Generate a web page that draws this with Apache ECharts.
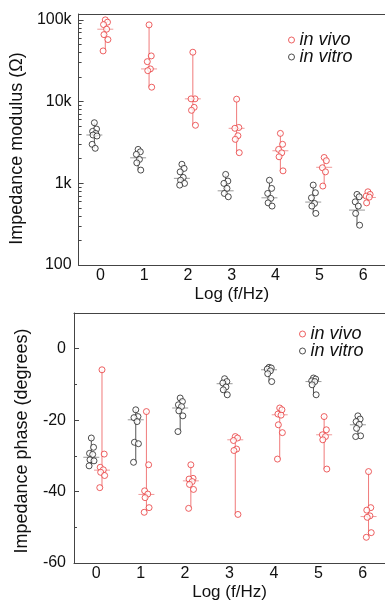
<!DOCTYPE html>
<html><head><meta charset="utf-8">
<script src="https://cdn.jsdelivr.net/npm/echarts@6/dist/echarts.min.js"></script>
<style>html,body{margin:0;padding:0;background:#fff}#c{width:385px;height:605px}</style>
</head><body><div id="c"></div>
<script>
// ---------- data ----------
const categories = ['0', '1', '2', '3', '4', '5', '6'];

const modulusInVivo = [
  [100000, 93800, 87600, 76900, 66000, 57400, 41700],
  [86900, 36200, 30800, 25100, 23900, 15000],
  [40200, 10800, 10800, 8500, 7820, 5130],
  [10700, 4820, 4710, 3820, 3450, 2370],
  [4080, 3000, 2600, 2360, 2110, 1420],
  [2070, 1890, 1550, 1380, 925],
  [787, 731, 697, 677, 576]
];
const modulusInVivoMedian = [76900, 25100, 10800, 4710, 2500, 1570, 671];

const modulusInVitro = [
  [5510, 4610, 4320, 4080, 3900, 3790, 3000, 2680],
  [2600, 2430, 2260, 1960, 1780, 1450],
  [1710, 1520, 1380, 1180, 1090, 997, 950],
  [1285, 1065, 997, 866, 751, 684],
  [1090, 866, 751, 653, 576, 526],
  [951, 766, 664, 567, 526, 428],
  [731, 684, 593, 526, 428, 307]
];
const modulusInVitroMedian = [3900, 2050, 1150, 809, 664, 589, 470];

const phaseInVivo = [
  [-5.9, -29.5, -33.2, -33.9, -34.6, -35.5, -38.9],
  [-17.6, -32.5, -39.8, -40.7, -41.7, -44.5, -45.8],
  [-32.5, -36.3, -36.5, -37.2, -38, -39.4, -44.7],
  [-24.6, -25, -25.7, -28.1, -28.5, -46.4],
  [-16.6, -17.1, -18.3, -18.6, -21.3, -23.5, -30.9],
  [-19, -22.7, -24.1, -24.6, -25.5, -33.7],
  [-34.4, -44.5, -45.2, -46.8, -47.2, -51.5, -52.8]
];
const phaseInVivoMedian = [-34, -40.8, -37, -25.5, -18.5, -24.1, -47];

const phaseInVitro = [
  [-25, -27.6, -29.3, -29.6, -31.1, -31.4, -32.8],
  [-17.1, -19, -19.3, -20.4, -26.2, -26.6, -31.8],
  [-13.8, -14.8, -15.7, -16.2, -17.4, -18.8, -23.2],
  [-8.4, -9.2, -9.6, -10.7, -11.5, -12.9],
  [-5.2, -5.4, -5.7, -6.2, -7, -9.2],
  [-8.2, -8.5, -9, -9.2, -10.1, -12.9],
  [-18.8, -19.7, -20.4, -21.2, -22.3, -24.4, -24.6]
];
const phaseInVitroMedian = [-30.4, -19.9, -16.6, -9.8, -5.9, -9.2, -21.3];

const modulusTicks = [100, 1000, 10000, 100000];
const phaseTicks = [-60, -40, -20, 0];
const phaseMinorTicks = [-50, -30, -10];

// ---------- styling ----------
const RED = '#e8393b', RED_LINE = '#f07a7a', RED_MED = '#f09a9a';
const BLK = '#222', BLK_LINE = '#555', BLK_MED = '#999';
const AX = '#444';
const FONT = '"Liberation Sans", Arial, sans-serif';
const jitter = [0, 0.05, -0.04, 0.03, -0.03, 0.06, -0.05, 0.02];

const modMinor = [];
[100, 1000, 10000].forEach(d => { for (let k = 2; k <= 9; k++) modMinor.push(d * k); });

function points(groups, off) {
  const out = [];
  groups.forEach((g, i) => g.forEach((v, k) => out.push([i + off + jitter[k % jitter.length], v])));
  return out;
}
function ranges(groups, medians, off) {
  return groups.map((g, i) => [i + off, Math.min(...g), Math.max(...g), medians[i]]);
}
function rangeRender(color, medColor) {
  return function (params, api) {
    const x = api.value(0);
    const lo = api.coord([x, api.value(1)]);
    const hi = api.coord([x, api.value(2)]);
    const md = api.coord([x, api.value(3)]);
    return { type: 'group', children: [
      { type: 'line', shape: { x1: lo[0], y1: lo[1], x2: hi[0], y2: hi[1] }, style: { stroke: color, lineWidth: 1 } },
      { type: 'line', shape: { x1: md[0] - 8, y1: md[1], x2: md[0] + 8, y2: md[1] }, style: { stroke: medColor, lineWidth: 1 } }
    ]};
  };
}

function catAxis(grid, pos, labels) {
  return {
    type: 'category', gridIndex: grid, position: pos, data: categories, boundaryGap: true,
    axisLine: { onZero: false, lineStyle: { color: AX, width: 1 } },
    axisTick: { alignWithLabel: true, inside: true, length: 4, lineStyle: { color: AX } },
    axisLabel: { show: labels, color: '#111', fontSize: 16, fontFamily: FONT, margin: 3 },
    splitLine: { show: false },
    name: labels ? 'Log (f/Hz)' : '', nameLocation: 'middle', nameGap: 21,
    nameTextStyle: { color: '#111', fontSize: 17, fontFamily: FONT }
  };
}
function valX(grid) {
  return { type: 'value', gridIndex: grid, min: -0.5, max: 6.5, show: false };
}
function scatterStyle(c) {
  return { color: '#fff', borderColor: c, borderWidth: 1 };
}

const TOP_OFF = { vitro: -0.14, vivo: 0.11 };
const BOT_OFF = { vitro: -0.11, vivo: 0.13 };

const legendText = { fontSize: 18, fontStyle: 'italic', color: '#111', fontFamily: FONT, lineHeight: 16 };
function legend(left, top) {
  return { data: ['in vivo', 'in vitro'], orient: 'vertical', left: left, top: top, padding: 0,
    itemWidth: 6, itemHeight: 6, itemGap: -1, itemStyle: { borderWidth: 1 }, textStyle: legendText };
}

const option = {
  animation: false,
  backgroundColor: '#fff',
  textStyle: { fontFamily: FONT },
  grid: [
    { left: 77, right: -4, top: 14, bottom: 340 },
    { left: 74, right: 0, top: 313, bottom: 42 }
  ],
  legend: [legend(288, 31), legend(299, 325)],
  xAxis: [
    catAxis(0, 'bottom', true), catAxis(0, 'top', false), valX(0),
    catAxis(1, 'bottom', true), catAxis(1, 'top', false), valX(1)
  ],
  yAxis: [
    { type: 'log', logBase: 10, gridIndex: 0, min: 100, max: 118000, position: 'left',
      axisLine: { show: true, onZero: false, lineStyle: { color: AX } },
      axisTick: { inside: true, length: 5, customValues: modulusTicks, lineStyle: { color: AX } },
      axisLabel: { customValues: modulusTicks, color: '#111', fontSize: 16, fontFamily: FONT, margin: 7,
        formatter: v => v >= 1000 ? (v / 1000) + 'k' : String(v) },
      splitLine: { show: false },
      name: 'Impedance modulus (Ω)', nameLocation: 'middle', nameGap: 46,
      nameTextStyle: { color: '#111', fontSize: 18, fontFamily: FONT, padding: [0, 18, 0, 0] } },
    { type: 'log', logBase: 10, gridIndex: 0, min: 100, max: 118000, position: 'left', offset: 0,
      axisLine: { show: false, onZero: false }, axisLabel: { show: false }, splitLine: { show: false },
      axisTick: { show: true, inside: true, length: 3, customValues: modMinor, lineStyle: { color: AX } } },
    { type: 'value', gridIndex: 1, min: -60, max: 10, interval: 20, position: 'left',
      axisLine: { show: true, onZero: false, lineStyle: { color: AX } },
      axisTick: { inside: true, length: 5, customValues: phaseTicks, lineStyle: { color: AX } },
      axisLabel: { customValues: phaseTicks, color: '#111', fontSize: 16, fontFamily: FONT, margin: 8 },
      splitLine: { show: false },
      name: 'Impedance phase (degrees)', nameLocation: 'middle', nameGap: 43,
      nameTextStyle: { color: '#111', fontSize: 18, fontFamily: FONT, padding: [0, 6, 0, 0] } },
    { type: 'value', gridIndex: 1, min: -60, max: 10, interval: 20, position: 'left', offset: 0,
      axisLine: { show: false, onZero: false }, axisLabel: { show: false }, splitLine: { show: false },
      axisTick: { show: true, inside: true, length: 3, customValues: phaseMinorTicks, lineStyle: { color: AX } } }
  ],
  series: [
    { type: 'custom', name: 'vitro-range-top', xAxisIndex: 2, yAxisIndex: 0, renderItem: rangeRender(BLK_LINE, BLK_MED),
      encode: { x: 0, y: [1, 2, 3] }, data: ranges(modulusInVitro, modulusInVitroMedian, TOP_OFF.vitro), z: 1 },
    { type: 'custom', name: 'vivo-range-top', xAxisIndex: 2, yAxisIndex: 0, renderItem: rangeRender(RED_LINE, RED_MED),
      encode: { x: 0, y: [1, 2, 3] }, data: ranges(modulusInVivo, modulusInVivoMedian, TOP_OFF.vivo), z: 1 },
    { type: 'scatter', name: 'in vivo', xAxisIndex: 2, yAxisIndex: 0, symbol: 'circle', symbolSize: 6,
      itemStyle: scatterStyle(RED), data: points(modulusInVivo, TOP_OFF.vivo), z: 3 },
    { type: 'scatter', name: 'in vitro', xAxisIndex: 2, yAxisIndex: 0, symbol: 'circle', symbolSize: 6,
      itemStyle: scatterStyle(BLK), data: points(modulusInVitro, TOP_OFF.vitro), z: 3 },
    { type: 'custom', name: 'vitro-range-bot', xAxisIndex: 5, yAxisIndex: 2, renderItem: rangeRender(BLK_LINE, BLK_MED),
      encode: { x: 0, y: [1, 2, 3] }, data: ranges(phaseInVitro, phaseInVitroMedian, BOT_OFF.vitro), z: 1 },
    { type: 'custom', name: 'vivo-range-bot', xAxisIndex: 5, yAxisIndex: 2, renderItem: rangeRender(RED_LINE, RED_MED),
      encode: { x: 0, y: [1, 2, 3] }, data: ranges(phaseInVivo, phaseInVivoMedian, BOT_OFF.vivo), z: 1 },
    { type: 'scatter', name: 'in vivo', xAxisIndex: 5, yAxisIndex: 2, symbol: 'circle', symbolSize: 6,
      itemStyle: scatterStyle(RED), data: points(phaseInVivo, BOT_OFF.vivo), z: 3 },
    { type: 'scatter', name: 'in vitro', xAxisIndex: 5, yAxisIndex: 2, symbol: 'circle', symbolSize: 6,
      itemStyle: scatterStyle(BLK), data: points(phaseInVitro, BOT_OFF.vitro), z: 3 }
  ]
};

const chart = echarts.init(document.getElementById('c'), null, { renderer: 'canvas' });
chart.setOption(option);
</script>
</body></html>
